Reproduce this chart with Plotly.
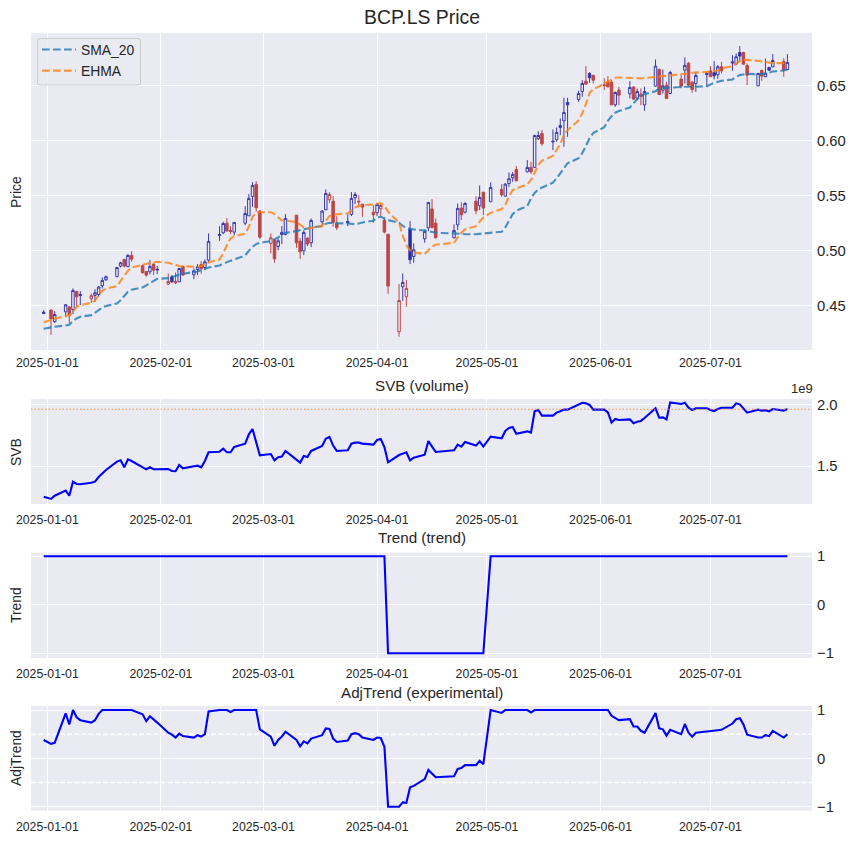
import plotly.graph_objects as go

TRADING_DAYS = {
    "2024-12": [31],
    "2025-01": [2, 3, 6, 7, 8, 9, 10, 13, 14, 15, 16, 17, 20, 21, 22, 23, 24, 27, 28, 29, 30, 31],
    "2025-02": [3, 4, 5, 6, 7, 10, 11, 12, 13, 14, 17, 18, 19, 20, 21, 24, 25, 26, 27, 28],
    "2025-03": [3, 4, 5, 6, 7, 10, 11, 12, 13, 14, 17, 18, 19, 20, 21, 24, 25, 26, 27, 28, 31],
    "2025-04": [1, 2, 3, 4, 7, 8, 9, 10, 11, 14, 15, 16, 17, 22, 23, 24, 25, 28, 29, 30],
    "2025-05": [2, 5, 6, 7, 8, 9, 12, 13, 14, 15, 16, 19, 20, 21, 22, 23, 26, 27, 28, 29, 30],
    "2025-06": [2, 3, 4, 5, 6, 9, 10, 11, 12, 13, 16, 17, 18, 19, 20, 23, 24, 25, 26, 27, 30],
    "2025-07": [1, 2, 3, 4, 7, 8, 9, 10, 11, 14, 15, 16, 17, 18, 21, 22],
}
dates = [f"{m}-{d:02d}" for m, days in TRADING_DAYS.items() for d in days]

# U hollow blue, R hollow red, D filled red, F filled blue
kind = list(
    "FDUUDUDFRUUUUUUDUDDDUDF"
    "RFDUDUUDUUFUDDUUUUDD"
    "RDUUUDDUDUUURDDFUUDDD"
    "URDDRURFUUUDDUUDUDUD"
    "UDUUUDUDUUDFUUUFUUDFD"
    "DDDUDUDUDUUDUDUDUDDUF"
    "DFUDFUFDDUDUFUDU"
)

body_top = [
    .4439, .4458, .4418, .4506, .4485, .4636, .4627, .4600, .4588, .4615, .4667, .4727, .4761, .4845, .4888, .4918, .4955, .4955, .4861, .4809, .4855, .4876, .4830,
    .4718, .4761, .4718, .4836, .4855, .4815, .4852, .4873, .4897, .5082, .5145, .5245, .5248, .5182, .5255, .5336, .5473, .5591, .5600, .5358,
    .5115, .5094, .5088, .5164, .5291, .5321, .5085, .5164, .5112, .5273, .5358, .5518, .5509, .5448, .5248, .5264, .5473, .5509, .5448, .5421, .5348,
    .5418, .5409, .5276, .5148, .4545, .4709, .4655, .5194, .5006, .5173, .5436, .5376, .5248, .5182, .5382, .5385, .5427, .5448, .5482, .5530,
    .5573, .5555, .5603, .5652, .5691, .5736, .5755, .5755, .6045, .6045, .6064, .5994, .6073, .6136, .6255, .6345, .6427, .6518, .6539, .6609, .6591,
    .6505, .6533, .6530, .6436, .6458, .6482, .6485, .6445, .6421, .6445, .6676, .6645, .6497, .6503, .6618, .6558, .6682, .6703, .6530, .6591, .6609,
    .6633, .6618, .6670, .6670, .6715, .6761, .6800, .6800, .6682, .6609, .6636, .6612, .6664, .6727, .6718, .6709,
]
body_bottom = [
    .4427, .4379, .4352, .4442, .4412, .4464, .4579, .4591, .4561, .4591, .4600, .4679, .4733, .4761, .4858, .4858, .4852, .4921, .4797, .4776, .4806, .4821, .4824,
    .4694, .4715, .4706, .4715, .4776, .4779, .4827, .4833, .4845, .4912, .5136, .5161, .5176, .5173, .5167, .5248, .5315, .5491, .5388, .5121,
    .5064, .4924, .5036, .5145, .5145, .5070, .4988, .4997, .5058, .5070, .5261, .5370, .5461, .5255, .5206, .5252, .5327, .5479, .5442, .5394, .5324,
    .5342, .5379, .5167, .4676, .4261, .4670, .4579, .4915, .4945, .5106, .5206, .5209, .5115, .5115, .5233, .5324, .5348, .5361, .5406, .5385,
    .5442, .5506, .5494, .5609, .5661, .5633, .5715, .5715, .5755, .6015, .5970, .5988, .6006, .6118, .6179, .6324, .6373, .6445, .6512, .6570, .6548,
    .6500, .6488, .6324, .6324, .6412, .6424, .6376, .6385, .6400, .6324, .6494, .6418, .6458, .6382, .6427, .6494, .6639, .6503, .6464, .6518, .6600,
    .6579, .6588, .6597, .6633, .6706, .6694, .6767, .6694, .6594, .6497, .6585, .6579, .6639, .6670, .6639, .6645,
]
wick_high = [
    .4458, .4464, .4448, .4512, .4494, .4655, .4633, .4630, .4609, .4648, .4676, .4755, .4773, .4845, .4897, .4924, .4967, .4994, .4873, .4815, .4912, .4882, .4858,
    .4791, .4776, .4800, .4842, .4861, .4836, .4876, .4903, .4918, .5155, .5221, .5261, .5294, .5221, .5255, .5403, .5512, .5621, .5630, .5367,
    .5155, .5103, .5109, .5221, .5330, .5321, .5115, .5185, .5118, .5291, .5367, .5555, .5530, .5494, .5312, .5330, .5530, .5530, .5503, .5421, .5412,
    .5433, .5421, .5300, .5148, .4694, .4791, .4730, .5267, .5064, .5191, .5442, .5467, .5291, .5236, .5427, .5439, .5439, .5494, .5591, .5530,
    .5618, .5603, .5615, .5709, .5712, .5767, .5821, .5806, .6052, .6085, .6094, .6100, .6118, .6200, .6388, .6388, .6452, .6548, .6676, .6621, .6600,
    .6565, .6585, .6548, .6445, .6488, .6539, .6494, .6473, .6473, .6488, .6736, .6655, .6645, .6533, .6633, .6594, .6755, .6712, .6539, .6624, .6624,
    .6676, .6721, .6685, .6715, .6776, .6791, .6858, .6806, .6700, .6615, .6645, .6745, .6670, .6785, .6748, .6785,
]
wick_low = [
    .4421, .4233, .4342, .4397, .4336, .4421, .4488, .4503, .4524, .4533, .4579, .4655, .4724, .4761, .4845, .4845, .4852, .4897, .4791, .4761, .4782, .4776, .4785,
    .4685, .4706, .4694, .4715, .4770, .4739, .4776, .4788, .4821, .4897, .5088, .5148, .5176, .5148, .5139, .5230, .5315, .5397, .5352, .5103,
    .4973, .4888, .5000, .5058, .5139, .5024, .4924, .4958, .5039, .5030, .5230, .5367, .5433, .5215, .5185, .5221, .5312, .5421, .5391, .5306, .5252,
    .5312, .5312, .5155, .4606, .4215, .4542, .4488, .4876, .4888, .5070, .5176, .5200, .5109, .5109, .5185, .5276, .5336, .5330, .5367, .5321,
    .5442, .5488, .5488, .5579, .5624, .5633, .5709, .5694, .5755, .6003, .5952, .5912, .5988, .6048, .5942, .6033, .6352, .6397, .6512, .6524, .6518,
    .6459, .6482, .6324, .6306, .6321, .6382, .6367, .6367, .6321, .6270, .6488, .6412, .6427, .6376, .6421, .6473, .6518, .6494, .6433, .6442, .6488,
    .6579, .6555, .6561, .6609, .6633, .6685, .6715, .6691, .6503, .6494, .6542, .6579, .6633, .6664, .6579, .6639,
]

sma_20 = [
    .4288, .4303, .4306, .4318, .4324, .4358, .4382, .4397, .4412, .4433, .4458, .4482, .4494, .4518, .4548, .4588, .4624, .4642, .4664, .4682, .4703, .4724, .4742,
    .4748, .4755, .4767, .4782, .4788, .4800, .4809, .4821, .4836, .4845, .4864, .4882, .4894, .4906, .4918, .4955, .4997, .5033, .5058, .5070,
    .5085, .5100, .5118, .5145, .5160, .5176, .5185, .5197, .5203, .5209, .5221, .5242, .5252, .5252, .5248, .5245, .5239, .5239, .5245, .5255, .5270,
    .5300, .5306, .5288, .5276, .5252, .5224, .5206, .5197, .5191, .5182, .5176, .5167, .5161, .5155, .5152, .5152, .5148, .5148, .5152, .5155,
    .5164, .5170, .5209, .5270, .5330, .5361, .5403, .5473, .5523, .5556, .5571, .5616, .5656, .5707, .5747, .5793, .5838, .5884, .5959, .6020, .6068,
    .6120, .6179, .6221, .6252, .6267, .6300, .6342, .6376, .6403, .6421, .6448, .6470, .6476, .6479, .6482, .6485, .6488, .6488, .6485, .6488, .6494,
    .6512, .6524, .6533, .6542, .6555, .6579, .6594, .6603, .6606, .6600, .6603, .6609, .6618, .6627, .6636, .6645,
]
ehma = [
    .4348, .4373, .4379, .4403, .4409, .4442, .4488, .4503, .4524, .4542, .4594, .4633, .4652, .4676, .4724, .4776, .4815, .4845, .4864, .4876, .4888, .4894, .4897,
    .4888, .4882, .4870, .4858, .4855, .4852, .4852, .4858, .4873, .4891, .4918, .4973, .5048, .5109, .5130, .5152, .5215, .5306, .5345, .5348,
    .5348, .5330, .5300, .5273, .5272, .5258, .5236, .5209, .5197, .5206, .5221, .5270, .5312, .5324, .5327, .5339, .5361, .5391, .5406, .5412, .5418,
    .5424, .5430, .5403, .5352, .5252, .5136, .5048, .5003, .4982, .4967, .5003, .5036, .5052, .5070, .5118, .5161, .5191, .5221, .5261, .5300,
    .5342, .5376, .5412, .5494, .5548, .5564, .5600, .5641, .5705, .5777, .5816, .5859, .5914, .5968, .6050, .6095, .6180, .6247, .6332, .6433, .6464,
    .6518, .6539, .6555, .6570, .6573, .6573, .6570, .6567, .6564, .6567, .6579, .6585, .6585, .6585, .6588, .6597, .6603, .6609, .6615, .6618, .6621,
    .6624, .6627, .6639, .6655, .6676, .6700, .6721, .6730, .6733, .6724, .6718, .6712, .6706, .6703, .6703, .6700,
]
svb_billions = [
    1.255, 1.237, 1.263, 1.304, 1.263, 1.376, 1.358, 1.355, 1.368, 1.376, 1.414, 1.446, 1.470, 1.538, 1.548, 1.492, 1.556, 1.543, 1.492, 1.476, 1.492, 1.476, 1.476,
    1.478, 1.462, 1.460, 1.511, 1.484, 1.500, 1.505, 1.492, 1.543, 1.613, 1.618, 1.642, 1.613, 1.613, 1.656, 1.683, 1.758, 1.801, 1.699, 1.589,
    1.599, 1.548, 1.573, 1.578, 1.624, 1.554, 1.530, 1.583, 1.575, 1.624, 1.664, 1.723, 1.737, 1.667, 1.624, 1.629, 1.683, 1.691, 1.691, 1.683, 1.675,
    1.712, 1.720, 1.656, 1.532, 1.591, 1.602, 1.613, 1.548, 1.570, 1.594, 1.704, 1.659, 1.616, 1.629, 1.675, 1.659, 1.696, 1.667, 1.699, 1.659,
    1.739, 1.726, 1.785, 1.809, 1.817, 1.763, 1.782, 1.772, 1.944, 1.954, 1.909, 1.909, 1.933, 1.944, 1.957, 1.957, 1.995, 2.013, 2.008, 1.995, 1.957,
    1.957, 1.935, 1.852, 1.882, 1.874, 1.879, 1.847, 1.860, 1.866, 1.890, 1.968, 1.892, 1.895, 1.879, 2.016, 2.003, 2.013, 1.973, 1.954, 1.968, 1.968,
    1.954, 1.946, 1.962, 1.973, 1.973, 2.008, 2.000, 1.968, 1.933, 1.957, 1.949, 1.952, 1.944, 1.962, 1.949, 1.962,
]
trend = [
    1, 1, 1, 1, 1, 1, 1, 1, 1, 1, 1, 1, 1, 1, 1, 1, 1, 1, 1, 1, 1, 1, 1,
    1, 1, 1, 1, 1, 1, 1, 1, 1, 1, 1, 1, 1, 1, 1, 1, 1, 1, 1, 1,
    1, 1, 1, 1, 1, 1, 1, 1, 1, 1, 1, 1, 1, 1, 1, 1, 1, 1, 1, 1, 1,
    1, 1, 1, -1, -1, -1, -1, -1, -1, -1, -1, -1, -1, -1, -1, -1, -1, -1, -1, -1,
    1, 1, 1, 1, 1, 1, 1, 1, 1, 1, 1, 1, 1, 1, 1, 1, 1, 1, 1, 1, 1,
    1, 1, 1, 1, 1, 1, 1, 1, 1, 1, 1, 1, 1, 1, 1, 1, 1, 1, 1, 1, 1,
    1, 1, 1, 1, 1, 1, 1, 1, 1, 1, 1, 1, 1, 1, 1, 1,
]
adj_trend = [
    .38, .30, .32, .93, .70, 1, .85, .79, .74, .79, .92, 1, 1, 1, 1, 1, 1, 1, .91, .77, .87, .81, .74,
    .53, .49, .43, .51, .46, .43, .48, .45, .50, .97, 1, 1, 1, .96, 1, 1, 1, 1, 1, .60,
    .45, .26, .38, .45, .55, .38, .25, .35, .31, .41, .48, .62, .61, .41, .34, .37, .50, .52, .50, .43, .38,
    .43, .42, .24, -1, -1, -.91, -.92, -.60, -.57, -.43, -.24, -.31, -.39, -.37, -.22, -.20, -.14, -.14, -.05, -.12,
    1, .94, 1, 1, 1, 1, 1, .95, 1, 1, 1, 1, 1, 1, 1, 1, 1, 1, 1, 1, 1,
    1, 1, .88, .83, .79, .81, .66, .66, .57, .53, .94, .62, .60, .47, .59, .50, .71, .53, .45, .53, .55,
    .56, .56, .58, .59, .72, .81, .83, .70, .49, .43, .43, .48, .46, .57, .43, .50,
]
svb_level = 1.96
adj_levels = [0.5, -0.5]

series_names = ["SMA_20", "EHMA"]
panel_titles = ["SVB (volume)", "Trend (trend)", "AdjTrend (experimental)"]
panel_labels = ["Price", "SVB", "Trend", "AdjTrend"]

W, H = 854, 843
FONT = "Liberation Sans"
INK = "#262626"
BLUE_EDGE = "#3A3AAE"
BLUE_FILL = "#2A2A9E"
RED_EDGE = "#BE4545"
RED_FILL = "#BE4545"
CLEAR = "rgba(0,0,0,0)"

fig = go.Figure()

styles = {
    "U": (BLUE_EDGE, CLEAR),
    "R": (RED_EDGE, CLEAR),
    "D": (RED_EDGE, RED_FILL),
    "F": (BLUE_EDGE, BLUE_FILL),
}
for k, (edge, fill) in styles.items():
    idx = [i for i, s in enumerate(kind) if s == k]
    hollow = k in "UR"
    fig.add_trace(go.Candlestick(
        x=[dates[i] for i in idx],
        open=[body_bottom[i] if hollow else body_top[i] for i in idx],
        close=[body_top[i] if hollow else body_bottom[i] for i in idx],
        high=[wick_high[i] for i in idx],
        low=[wick_low[i] for i in idx],
        increasing=dict(line=dict(color=edge, width=1), fillcolor=fill),
        decreasing=dict(line=dict(color=edge, width=1), fillcolor=fill),
        whiskerwidth=0,
        showlegend=False,
        xaxis="x", yaxis="y",
    ))

for name, vals, col in [(series_names[0], sma_20, "rgba(31,119,180,0.8)"), (series_names[1], ehma, "rgba(255,127,14,0.8)")]:
    fig.add_trace(go.Scatter(x=dates, y=vals, mode="lines", name=name, legendgroup=name,
                             line=dict(color=col, width=2.1, dash="7.7px,3.3px"),
                             xaxis="x", yaxis="y"))

for vals, n in [(svb_billions, 2), (trend, 3), (adj_trend, 4)]:
    fig.add_trace(go.Scatter(x=dates, y=vals, mode="lines", showlegend=False,
                             line=dict(color="#0000FF", width=2.1),
                             xaxis=f"x{n}", yaxis=f"y{n}"))

panels = [
    (33, 350, [0.4095, 0.6977], [0.45, 0.50, 0.55, 0.60, 0.65], ["0.45", "0.50", "0.55", "0.60", "0.65"], 4),
    (399, 504, [1.196, 2.043], [1.5, 2.0], ["1.5", "2.0"], 7),
    (552.7, 658, [-1.097, 1.074], [-1, 0, 1], ["\u22121", "0", "1"], 7),
    (706, 810.7, [-1.083, 1.083], [-1, 0, 1], ["\u22121", "0", "1"], 7),
]
layout = dict(
    width=W, height=H, margin=dict(l=0, r=0, t=0, b=0, autoexpand=False),
    paper_bgcolor="white", plot_bgcolor="#EAEAF2",
    font=dict(family=FONT, color=INK),
    boxgap=0.03,
    legend=dict(x=37 / W, y=1 - 34 / H, xanchor="left", yanchor="top",
                bgcolor="rgba(0,0,0,0)", borderwidth=0,
                font=dict(size=13.9, color=INK), itemwidth=34, tracegroupgap=0),
)
for i, (top, bottom, yr, tv, tt, standoff) in enumerate(panels, start=1):
    s = "" if i == 1 else str(i)
    layout[f"xaxis{s}"] = dict(
        domain=[31 / W, 812 / W], anchor=f"y{s}",
        type="date", range=["2024-12-27 13:00", "2025-07-28 17:00"],
        tick0="2025-01-01", dtick="M1", tickformat="%Y-%m-%d",
        showgrid=True, gridcolor="white", gridwidth=1.4, zeroline=False, showline=False,
        ticks="", tickfont=dict(size=12.3, color=INK), rangeslider=dict(visible=False),
        ticklabelstandoff=standoff,
    )
    layout[f"yaxis{s}"] = dict(
        domain=[1 - bottom / H, 1 - top / H], anchor=f"x{s}", side="right",
        range=yr, tickmode="array", tickvals=tv, ticktext=tt,
        showgrid=True, gridcolor="white", gridwidth=1.4, zeroline=False, showline=False,
        ticks="", tickfont=dict(size=14.8, color=INK), ticklabelstandoff=4,
    )
fig.update_layout(**layout)

fig.add_shape(type="line", xref="x2 domain", yref="y2", x0=0, x1=1, y0=svb_level, y1=svb_level,
              line=dict(color="rgba(255,127,14,0.8)", width=1.1, dash="1.5px,2px"), layer="above")
for lv in adj_levels:
    fig.add_shape(type="line", xref="x4 domain", yref="y4", x0=0, x1=1, y0=lv, y1=lv,
                  line=dict(color="white", width=1.4, dash="5px,2.2px"), layer="below")

# rounded legend frame
def px(x, y):
    return f"{x / W:.5f} {1 - y / H:.5f}"
x0, x1, y0, y1, r = 37.5, 140.5, 38.5, 85, 2.5
fig.add_shape(
    type="path", xref="paper", yref="paper",
    path=(f"M {px(x0 + r, y0)} L {px(x1 - r, y0)} Q {px(x1, y0)} {px(x1, y0 + r)} "
          f"L {px(x1, y1 - r)} Q {px(x1, y1)} {px(x1 - r, y1)} "
          f"L {px(x0 + r, y1)} Q {px(x0, y1)} {px(x0, y1 - r)} "
          f"L {px(x0, y0 + r)} Q {px(x0, y0)} {px(x0 + r, y0)} Z"),
    fillcolor="rgba(234,234,242,0.8)", line=dict(color="#CCCCCC", width=1), layer="above",
)

def text(s, x, y, size, angle=0):
    fig.add_annotation(text=s, xref="paper", yref="paper", x=x / W, y=1 - y / H, showarrow=False,
                       xanchor="center", yanchor="middle", textangle=angle,
                       font=dict(size=size, color=INK, family=FONT))

text("BCP.LS Price", 421.5, 17, 19.4)
text(panel_titles[0], 421.5, 385, 15.2)
text(panel_titles[1], 421.5, 537.5, 15.2)
text(panel_titles[2], 421.5, 692, 15.2)
text(panel_labels[0], 16, 192, 13.9, -90)
text(panel_labels[1], 16, 452, 13.9, -90)
text(panel_labels[2], 16, 605, 13.9, -90)
text(panel_labels[3], 16, 758, 13.9, -90)
text("1e9", 801.5, 389, 13)

fig.write_html("out.html", config=dict(displayModeBar=False),
               post_script="document.body.style.margin='0';document.documentElement.style.overflow='hidden';")
